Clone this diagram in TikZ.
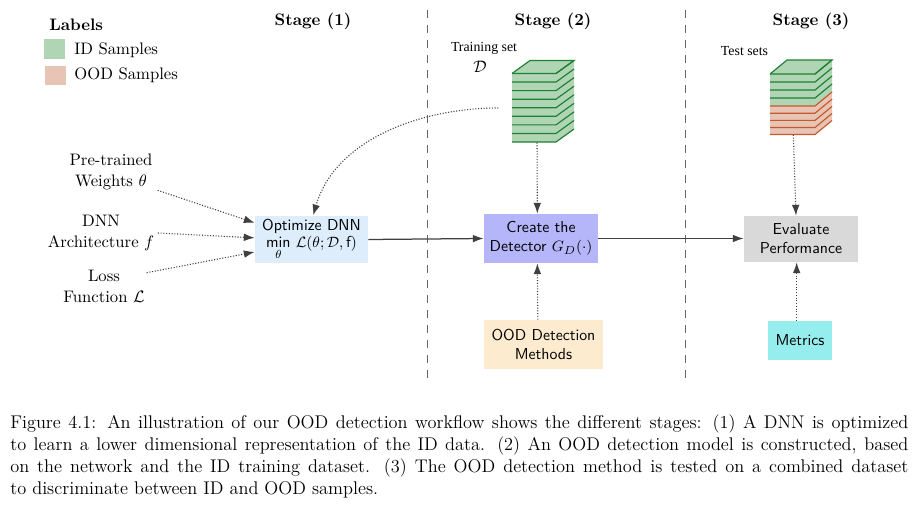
\documentclass[tikz,border=0pt]{standalone}
\usepackage{amsmath}
\usepackage{fontspec}
\newfontfamily\timesf{Liberation Serif}
\usetikzlibrary{arrows.meta}
\definecolor{idfill}{RGB}{176,213,181}
\definecolor{oodfill}{RGB}{232,196,181}
\definecolor{idline}{RGB}{30,128,50}
\definecolor{oodline}{RGB}{196,90,45}
\definecolor{optfill}{RGB}{221,237,252}
\definecolor{createfill}{RGB}{181,181,250}
\definecolor{evalfill}{RGB}{217,217,217}
\definecolor{methfill}{RGB}{253,235,208}
\definecolor{metfill}{RGB}{150,237,237}
\definecolor{arrgray}{RGB}{64,64,64}
\begin{document}
\begin{tikzpicture}[x=0.6pt,y=-0.6pt,
  box/.style={inner sep=1pt, align=center, font=\sffamily\fontsize{9.5}{11.5}\selectfont, minimum height=28.5pt},
  lbl/.style={align=center, inner sep=1pt, font=\fontsize{10}{12.6}\selectfont},
  dotarr/.style={densely dotted, line width=0.65pt, draw=arrgray, -{Latex[length=6.5pt,width=4.6pt]}},
  solarr/.style={line width=0.75pt, draw=arrgray, -{Latex[length=6.5pt,width=4.6pt]}},
  stagesep/.style={draw=black!60, line width=0.6pt, dash pattern=on 5pt off 4pt},
  tset/.style={inner sep=0pt, font=\timesf\fontsize{8.3}{10}\selectfont}]
\useasboundingbox (0,0) rectangle (917,519);

% legend
\node[anchor=west, inner sep=0pt, font=\bfseries\fontsize{10}{12}\selectfont] (labels) at (49,25) {Labels};
\fill[idfill] (44,39) rectangle (65,59);
\fill[oodfill] (45,66) rectangle (66,85);
\node[anchor=west, inner sep=0pt, font=\fontsize{10}{12}\selectfont] (idl) at (74,50) {ID Samples};
\node[anchor=west, inner sep=0pt, font=\fontsize{10}{12}\selectfont] (oodl) at (74,75) {OOD Samples};

% stage titles
\node[inner sep=0pt, font=\bfseries\fontsize{10}{12}\selectfont] (s1) at (313,21) {Stage (1)};
\node[inner sep=0pt, font=\bfseries\fontsize{10}{12}\selectfont] (s2) at (553,21) {Stage (2)};
\node[inner sep=0pt, font=\bfseries\fontsize{10}{12}\selectfont] (s3) at (811,21) {Stage (3)};

% separators
\draw[stagesep] (427,10) -- (427,380);
\draw[stagesep] (685,10) -- (685,380);

% training stack
\fill[idfill] (512,73.5) -- (530,60.5) -- (574,60.5) -- (574,129) -- (556,142) -- (512,142) -- cycle;
\draw[idline, line width=0.7pt] (512,73.5) -- (530,60.5) -- (574,60.5) -- (556,73.5);
\foreach \i in {0,...,8}{
  \draw[idline, line width=0.7pt] (512,73.5+\i*8.5625) -- (556,73.5+\i*8.5625) -- (574,60.5+\i*8.5625);
}
\node[inner sep=0pt, minimum width=26.4pt, minimum height=41pt] (train) at (534,108) {};
\node[tset] (trainlbl) at (484,48) {Training set};
\node[inner sep=0pt, font=\fontsize{10}{12}\selectfont] (dsym) at (480,67) {$\mathcal{D}$};

% test stack
\fill[idfill] (770,74) -- (787,60) -- (832,60) -- (832,92) -- (815,106) -- (770,106) -- cycle;
\fill[oodfill] (770,106) -- (815,106) -- (832,92) -- (832,120.5) -- (815,134.5) -- (770,134.5) -- cycle;
\draw[idline, line width=0.7pt] (770,74) -- (787,60) -- (832,60) -- (815,74);
\foreach \y in {74,82,90,98}{
  \draw[idline, line width=0.7pt] (770,\y) -- (815,\y) -- (832,\y-14);
}
\foreach \y in {106,113.2,120.4,127.5,134.5}{
  \draw[oodline, line width=0.7pt] (770,\y) -- (815,\y) -- (832,\y-14);
}
\node[inner sep=0pt, minimum width=27pt, minimum height=36pt] (test) at (792.5,104.5) {};
\node[tset] (testlbl) at (744.5,51.5) {Test sets};

% left labels
\node[lbl] (pre) at (111,172) {Pre-trained\\Weights $\theta$};
\node[lbl] (arch) at (101,233) {DNN\\Architecture $f$};
\node[lbl] (loss) at (104,286) {Loss\\Function $\mathcal{L}$};

% process boxes
\node[box, fill=optfill, minimum width=67.8pt] (opt) at (311.5,239.5)
  {Optimize DNN\\[-1pt]$\mathop{\mathsf{min}}\limits_{\theta}\,\mathcal{L}(\theta;\mathcal{D},\mathsf{f})$};
\node[box, fill=createfill, minimum width=68.4pt, minimum height=29.4pt] (create) at (541,238.5)
  {Create the\\Detector $G_D(\cdot)$};
\node[box, fill=evalfill, minimum width=68.4pt, minimum height=27.6pt] (eval) at (801,239)
  {Evaluate\\Performance};
\node[box, fill=methfill, minimum width=71.4pt, minimum height=29.4pt] (meth) at (543.5,344.5)
  {OOD Detection\\Methods};
\node[box, fill=metfill, minimum width=38.4pt, minimum height=23.4pt] (met) at (800,340.5)
  {Metrics};

% connectors
\draw[dotarr] ([xshift=2pt,yshift=1pt]pre.south east) -- ([yshift=10pt]opt.west);
\draw[dotarr] ([xshift=1pt]arch.east) -- ([yshift=1pt]opt.west);
\draw[dotarr] ([yshift=-3pt]loss.north east) -- ([yshift=-7.5pt]opt.west);
\draw[dotarr, shorten <=8pt] (train.west) .. controls (420,108) and (335,140) .. ([xshift=1pt]opt.north);
\draw[solarr] (opt.east) -- (create.west);
\draw[solarr] (create.east) -- (eval.west |- create.east);
\draw[dotarr] ([xshift=1.8pt]train.south) -- ([xshift=-2.2pt]create.north);
\draw[dotarr] ([xshift=-3.4pt]meth.north) -- ([xshift=-2.2pt]create.south);
\draw[dotarr] ([xshift=0.5pt]test.south) -- ([xshift=-3pt]eval.north);
\draw[dotarr] ([xshift=-2pt]met.north) -- ([xshift=-2.6pt]eval.south);

% caption
\node[anchor=north west, inner sep=0pt, font=\fontsize{11}{13.2}\selectfont] (caption) at (10,414)
{\parbox{538.8pt}{Figure 4.1: An illustration of our OOD detection workflow shows the different stages: (1) A DNN is optimized\linebreak
to learn a lower dimensional representation of the ID data. (2) An OOD detection model is constructed, based\linebreak
on the network and the ID training dataset. (3) The OOD detection method is tested on a combined dataset\linebreak
to discriminate between ID and OOD samples.}};
\end{tikzpicture}
\end{document}
